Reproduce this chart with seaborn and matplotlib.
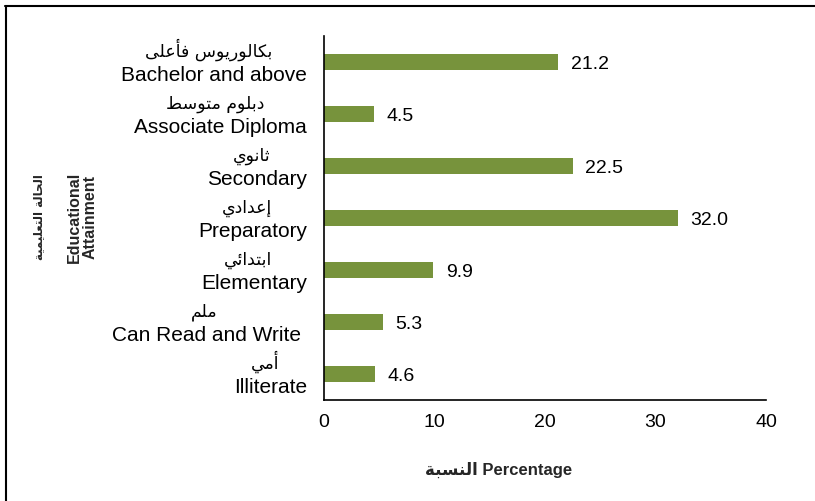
"""
Educational attainment distribution (horizontal bar chart, bilingual labels).
Output: out.png
"""

import matplotlib
matplotlib.use('Agg')
import matplotlib.pyplot as plt
from matplotlib.lines import Line2D
import seaborn as sns

# Data
categories_en = ['Bachelor and above', 'Associate Diploma', 'Secondary', 'Preparatory',
                 'Elementary', 'Can Read and Write ', 'Illiterate']
categories_ar = ['بكالوريوس فأعلى', 'دبلوم متوسط', 'ثانوي', 'إعدادي',
                 'ابتدائي', 'ملم', 'أمي']
values = [21.2, 4.5, 22.5, 32.0, 9.9, 5.3, 4.6]
x_ticks = [0, 10, 20, 30, 40]

BAR_COLOR = '#77933C'

# Arabic presentation forms: (isolated, final, initial, medial)
FORMS = {
    'ا': ('\uFE8D', '\uFE8E', None, None),
    'أ': ('\uFE83', '\uFE84', None, None),
    'إ': ('\uFE87', '\uFE88', None, None),
    'ب': ('\uFE8F', '\uFE90', '\uFE91', '\uFE92'),
    'ة': ('\uFE93', '\uFE94', None, None),
    'ت': ('\uFE95', '\uFE96', '\uFE97', '\uFE98'),
    'ث': ('\uFE99', '\uFE9A', '\uFE9B', '\uFE9C'),
    'ح': ('\uFEA1', '\uFEA2', '\uFEA3', '\uFEA4'),
    'د': ('\uFEA9', '\uFEAA', None, None),
    'ر': ('\uFEAD', '\uFEAE', None, None),
    'س': ('\uFEB1', '\uFEB2', '\uFEB3', '\uFEB4'),
    'ط': ('\uFEC1', '\uFEC2', '\uFEC3', '\uFEC4'),
    'ع': ('\uFEC9', '\uFECA', '\uFECB', '\uFECC'),
    'ف': ('\uFED1', '\uFED2', '\uFED3', '\uFED4'),
    'ك': ('\uFED9', '\uFEDA', '\uFEDB', '\uFEDC'),
    'ل': ('\uFEDD', '\uFEDE', '\uFEDF', '\uFEE0'),
    'م': ('\uFEE1', '\uFEE2', '\uFEE3', '\uFEE4'),
    'ن': ('\uFEE5', '\uFEE6', '\uFEE7', '\uFEE8'),
    'و': ('\uFEED', '\uFEEE', None, None),
    'ى': ('\uFEEF', '\uFEF0', None, None),
    'ي': ('\uFEF1', '\uFEF2', '\uFEF3', '\uFEF4'),
    'ئ': ('\uFE89', '\uFE8A', '\uFE8B', '\uFE8C'),
}


def shape_arabic(text):
    """Pick contextual glyph forms and reverse into visual order (no bidi in matplotlib)."""
    out = []
    for i, c in enumerate(text):
        if c not in FORMS:
            out.append(c)
            continue
        f = FORMS[c]
        prev = text[i - 1] if i > 0 else None
        nxt = text[i + 1] if i + 1 < len(text) else None
        join_prev = prev in FORMS and FORMS[prev][2] is not None
        join_next = f[2] is not None and nxt in FORMS
        if join_prev and join_next:
            out.append(f[3])
        elif join_prev:
            out.append(f[1])
        elif join_next:
            out.append(f[2])
        else:
            out.append(f[0])
    return ''.join(reversed(out))


sns.set_theme(style="white")
plt.rcParams['font.family'] = ['Liberation Sans', 'DejaVu Sans']
AR_FONT = ['DejaVu Sans']

fig = plt.figure(figsize=(8.15, 5.01), dpi=100)
ax = fig.add_axes([324 / 815, 1 - 400 / 501, 442 / 815, 364 / 501])

sns.barplot(x=values, y=categories_en, orient='h', color=BAR_COLOR,
            width=0.3, saturation=1, edgecolor='none', ax=ax)

# value labels
for i, v in enumerate(values):
    ax.annotate(f"{v:.1f}", xy=(v, i), xytext=(9, 0), textcoords='offset points',
                ha='left', va='center_baseline', fontsize=14, color='black')

ax.set_xlim(0, 40)
ax.set_ylim(6.5, -0.5)
ax.set_xticks(x_ticks)
ax.set_xticklabels([str(t) for t in x_ticks], fontsize=14)
ax.set_yticks([i - 0.5 for i in range(len(values) + 1)])
ax.set_yticklabels([])
ax.tick_params(axis='y', direction='out', length=5, width=1.2, color='black')
ax.tick_params(axis='x', direction='inout', length=8, width=1.2, color='black',
               labelcolor='black', pad=6)
ax.set_xlabel('')
ax.set_ylabel('')
for side in ['top', 'right']:
    ax.spines[side].set_visible(False)
for side in ['left', 'bottom']:
    ax.spines[side].set_color('black')
    ax.spines[side].set_linewidth(1.2)

# category labels: English right aligned, Arabic centered above
x_lab = -17 / 442
for i, (en, ar) in enumerate(zip(categories_en, categories_ar)):
    t = ax.text(x_lab, i + 0.37, en, transform=ax.get_yaxis_transform(),
                ha='right', va='baseline', fontsize=15, color='black')
    ax.annotate(shape_arabic(ar), xy=(0.5, 1), xycoords=t, xytext=(-4, 4),
                textcoords='offset points', ha='center', va='bottom',
                fontsize=12.5, family=AR_FONT, color='black')

# axis titles
fig.text(499 / 815, 1 - 470 / 501, shape_arabic('النسبة') + ' Percentage',
         ha='center', va='center', fontsize=12, fontweight='bold')
fig.text(39 / 815, 1 - 217 / 501, shape_arabic('الحالة التعليمية'), rotation=90,
         ha='center', va='center', fontsize=8.5, fontweight='bold', family=AR_FONT)
fig.text(82 / 815, 1 - 217 / 501, 'Educational\nAttainment', rotation=90,
         ha='center', va='center', fontsize=11.5, fontweight='bold', linespacing=1.1)

# frame around the chart (top and left edges)
fig.add_artist(Line2D([5 / 815, 1], [1 - 6 / 501] * 2, transform=fig.transFigure,
                      color='black', lw=1.5))
fig.add_artist(Line2D([6 / 815] * 2, [0, 1 - 6 / 501], transform=fig.transFigure,
                      color='black', lw=1.5))

fig.savefig('out.png', dpi=100)
